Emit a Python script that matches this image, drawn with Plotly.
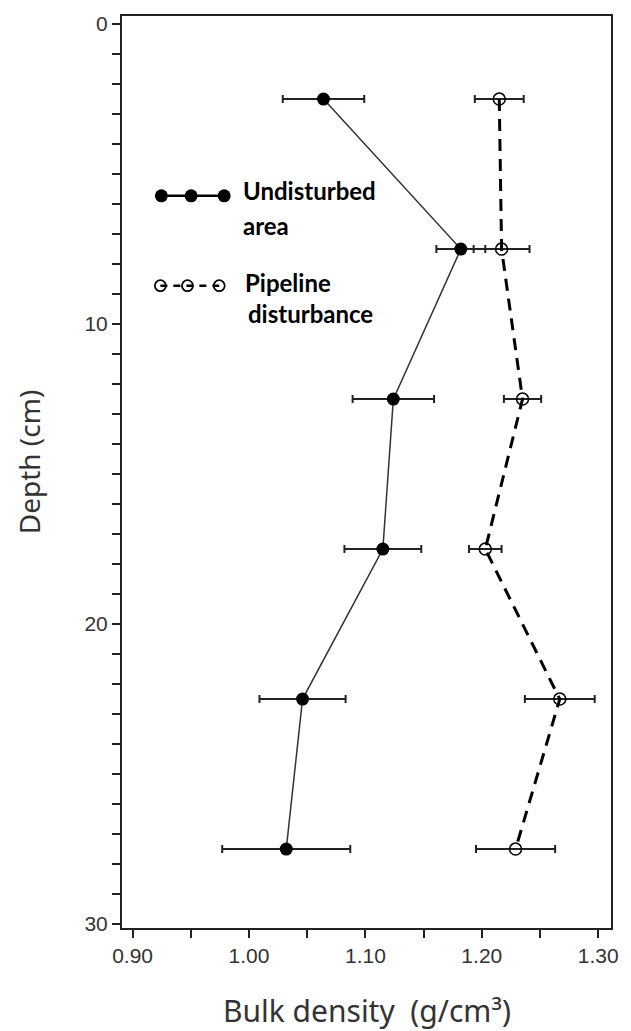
import plotly.graph_objects as go

# ---- data ----
depth = [2.5, 7.5, 12.5, 17.5, 22.5, 27.5]
undisturbed = [1.064, 1.182, 1.124, 1.115, 1.046, 1.032]
undisturbed_err = [0.035, 0.021, 0.035, 0.033, 0.037, 0.055]
pipeline = [1.215, 1.217, 1.235, 1.203, 1.267, 1.229]
pipeline_err = [0.021, 0.024, 0.016, 0.014, 0.030, 0.034]
x_title = "Bulk density  (g/cm³)"
y_title = "Depth (cm)"

# ---- layout constants (pixels) ----
W, H = 631, 1031
L, R, T, B = 122, 615, 15, 928
INK = "#222222"
TXT = "#333333"

def px(xp):
    return (xp - L) / (R - L)

def py(yp):
    return 1 - (yp - T) / (B - T)

fig = go.Figure()

fig.add_trace(go.Scatter(
    x=undisturbed, y=depth, mode="lines+markers",
    line=dict(color="#333333", width=1.5),
    marker=dict(symbol="circle", size=13, color="black"),
    error_x=dict(type="data", array=undisturbed_err, visible=True,
                 color=INK, thickness=2, width=4),
    showlegend=False,
))
fig.add_trace(go.Scatter(
    x=pipeline, y=depth, mode="lines+markers",
    line=dict(color="black", width=3, dash="12px,8px"),
    marker=dict(symbol="circle-open", size=12,
                line=dict(color="#333333", width=1.5)),
    error_x=dict(type="data", array=pipeline_err, visible=True,
                 color=INK, thickness=2, width=4),
    showlegend=False,
))

# legend samples on an overlay axis in frame fractions
fig.add_trace(go.Scatter(
    x=[px(161.7), px(191.7), px(225)], y=[py(195)] * 3,
    xaxis="x2", yaxis="y2", mode="lines+markers",
    line=dict(color="black", width=2.5),
    marker=dict(symbol="circle", size=13, color="black"),
    showlegend=False, hoverinfo="skip",
))
fig.add_trace(go.Scatter(
    x=[px(160.7), px(188), px(220)], y=[py(285)] * 3,
    xaxis="x2", yaxis="y2", mode="lines+markers",
    line=dict(color="black", width=2.5, dash="7px,6px"),
    marker=dict(symbol="circle-open", size=11,
                line=dict(color="black", width=1.8)),
    showlegend=False, hoverinfo="skip",
))

leg_font = dict(family="Lato", size=24, color="black")
annotations = [
    dict(text="<b>Undisturbed</b>", x=px(242), y=py(190), xref="paper", yref="paper",
         xanchor="left", yanchor="middle", showarrow=False, font=leg_font),
    dict(text="<b>area</b>", x=px(242), y=py(225), xref="paper", yref="paper",
         xanchor="left", yanchor="middle", showarrow=False, font=leg_font),
    dict(text="<b>Pipeline</b>", x=px(244), y=py(282), xref="paper", yref="paper",
         xanchor="left", yanchor="middle", showarrow=False, font=leg_font),
    dict(text="<b>disturbance</b>", x=px(247), y=py(313), xref="paper", yref="paper",
         xanchor="left", yanchor="middle", showarrow=False, font=leg_font),
    dict(text=x_title, x=px(369), y=py(1011), xref="paper", yref="paper",
         xanchor="center", yanchor="middle", showarrow=False,
         font=dict(family="Noto Sans", size=30, color=TXT)),
    dict(text=y_title, x=px(28), y=py(461), xref="paper", yref="paper",
         xanchor="center", yanchor="middle", showarrow=False, textangle=-90,
         font=dict(family="Noto Sans", size=28, color=TXT)),
]

tick_font = dict(family="Liberation Sans", size=21, color=TXT)
fig.update_layout(
    width=W, height=H,
    margin=dict(l=L, r=W - R, t=T, b=H - B, pad=0),
    paper_bgcolor="white", plot_bgcolor="white",
    annotations=annotations,
    xaxis=dict(
        range=[0.8909, 1.311], tickvals=[0.9, 1.0, 1.1, 1.2, 1.3],
        tickformat=".2f", ticks="outside", ticklen=8, tickwidth=2, tickcolor=INK,
        minor=dict(tickvals=[0.95, 1.05, 1.15, 1.25], ticks="outside",
                   ticklen=8, tickwidth=2, tickcolor=INK),
        showline=True, linecolor=INK, linewidth=2, mirror=True,
        showgrid=False, zeroline=False, tickfont=tick_font,
    ),
    yaxis=dict(
        range=[30.13, -0.27], tickvals=[0, 10, 20, 30],
        ticks="outside", ticklen=8, tickwidth=2, tickcolor=INK,
        minor=dict(dtick=1, ticks="outside", ticklen=8, tickwidth=2, tickcolor=INK),
        showline=True, linecolor=INK, linewidth=2, mirror=True,
        showgrid=False, zeroline=False, tickfont=tick_font,
    ),
    xaxis2=dict(overlaying="x", range=[0, 1], visible=False),
    yaxis2=dict(overlaying="y", range=[0, 1], visible=False),
)

fig.write_html("out.html")
